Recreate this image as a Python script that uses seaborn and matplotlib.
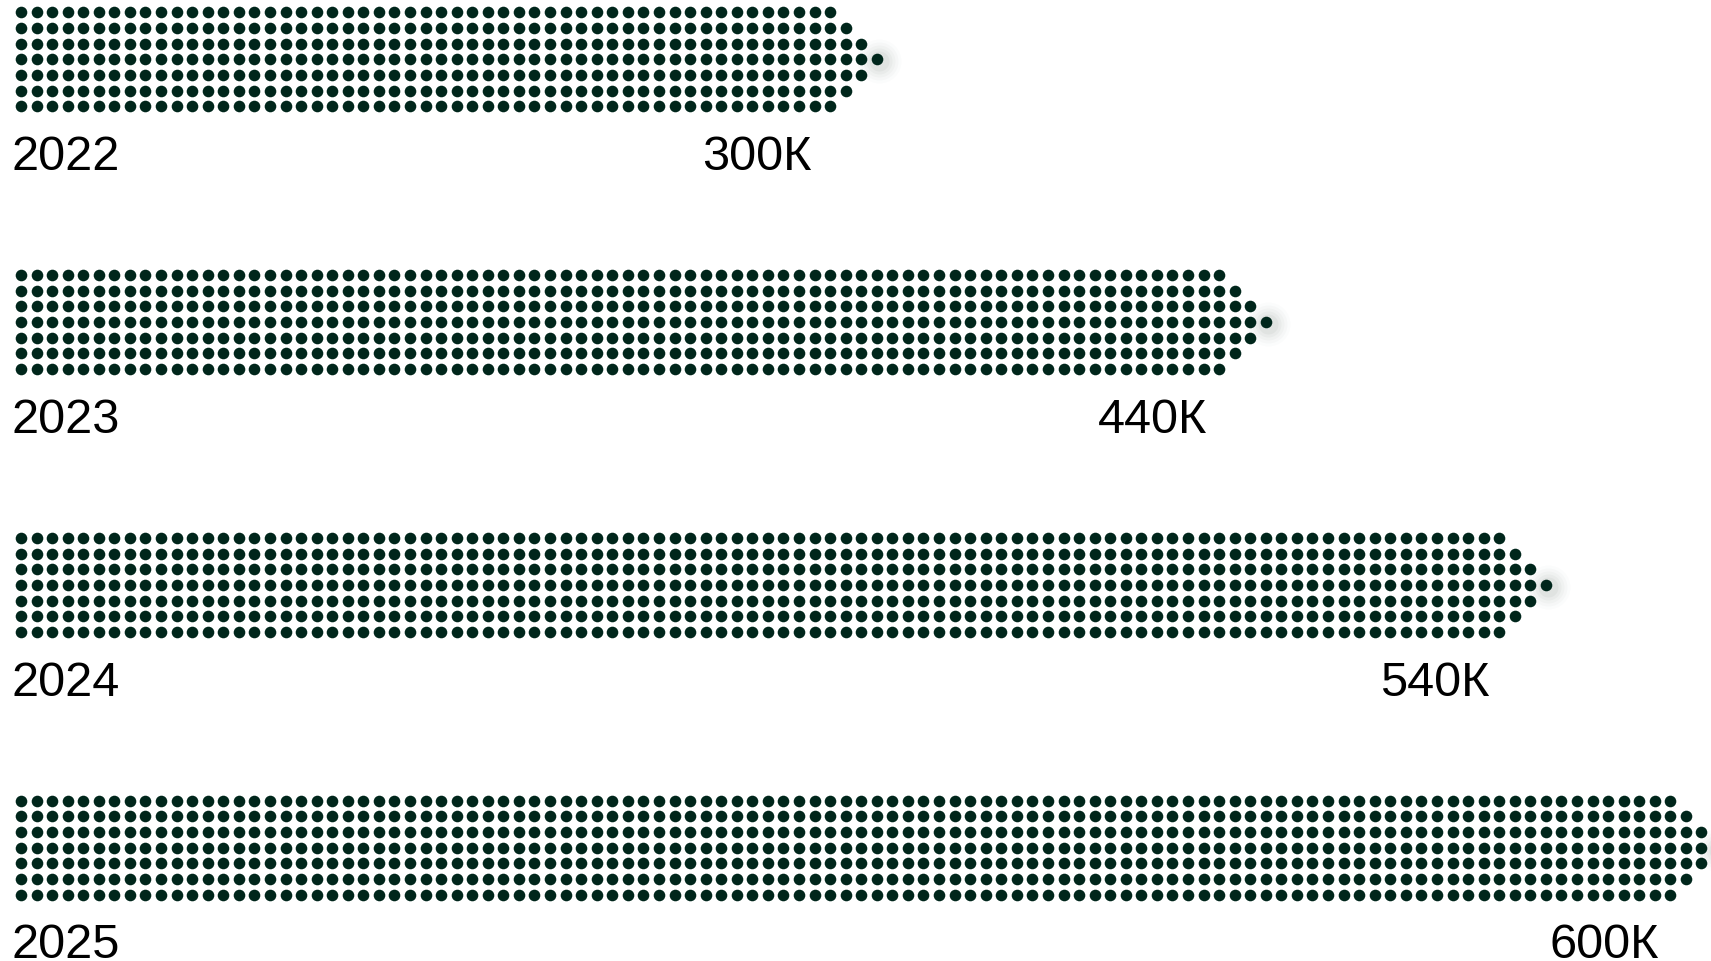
import numpy as np
import pandas as pd
import matplotlib
matplotlib.use("Agg")
import matplotlib.pyplot as plt
import seaborn as sns

# ---- data ----
years = ["2022", "2023", "2024", "2025"]
values = [300, 440, 540, 600]          # thousands
value_labels = ["300К", "440К", "540К", "600К"]
max_cols = 107                         # columns of dots for the largest value
n_rows = 7

# ---- layout (pixel units) ----
W, H = 1711, 962
x0, pitch_x = 21.0, 15.56
y0, pitch_y = 13.3, 15.67
bar_gap = 262.8
dot_color = "#00261b"

rows = []
tips = []
for b, (yr, v) in enumerate(zip(years, values)):
    n = int(v * max_cols / max(values))
    for r in range(n_rows):
        extra = 3 - abs(r - 3)
        for c in range(n + extra):
            rows.append({"year": yr, "x": x0 + c * pitch_x,
                         "y": y0 + b * bar_gap + r * pitch_y})
    tips.append((x0 + (n + 2) * pitch_x, y0 + b * bar_gap + 3 * pitch_y))
df = pd.DataFrame(rows)

sns.set_theme(style="white")
plt.rcParams["font.family"] = ["Liberation Sans", "DejaVu Sans"]

fig = plt.figure(figsize=(W / 100, H / 100), dpi=100)
ax = fig.add_axes([0, 0, 1, 1])
ax.set_xlim(0, W)
ax.set_ylim(H, 0)
ax.axis("off")

# soft glow behind tip dots
tdf = pd.DataFrame(tips, columns=["x", "y"])
for rad, a in [(22, 0.025), (19, 0.035), (16, 0.045), (13, 0.06), (10, 0.08)]:
    s = (rad * 2 * 0.72) ** 2
    ax.scatter(tdf["x"] + 2, tdf["y"] + 2, s=s, color="#7a8580", alpha=a,
               linewidths=0, zorder=1)

sns.scatterplot(data=df, x="x", y="y", ax=ax, color=dot_color, s=70,
                linewidth=0, legend=False, zorder=3)
ax.set_xlabel("")
ax.set_ylabel("")

for b, (yr, v, lab) in enumerate(zip(years, values, value_labels)):
    base = 170.0 + b * bar_gap
    ax.text(11.5, base, yr, fontsize=35, color="black", ha="left", va="baseline")
    lx = -35 + 2.823 * v
    ax.text(lx, base, lab, fontsize=35, color="black", ha="right", va="baseline")

fig.savefig("out.png", dpi=100, facecolor="white")
